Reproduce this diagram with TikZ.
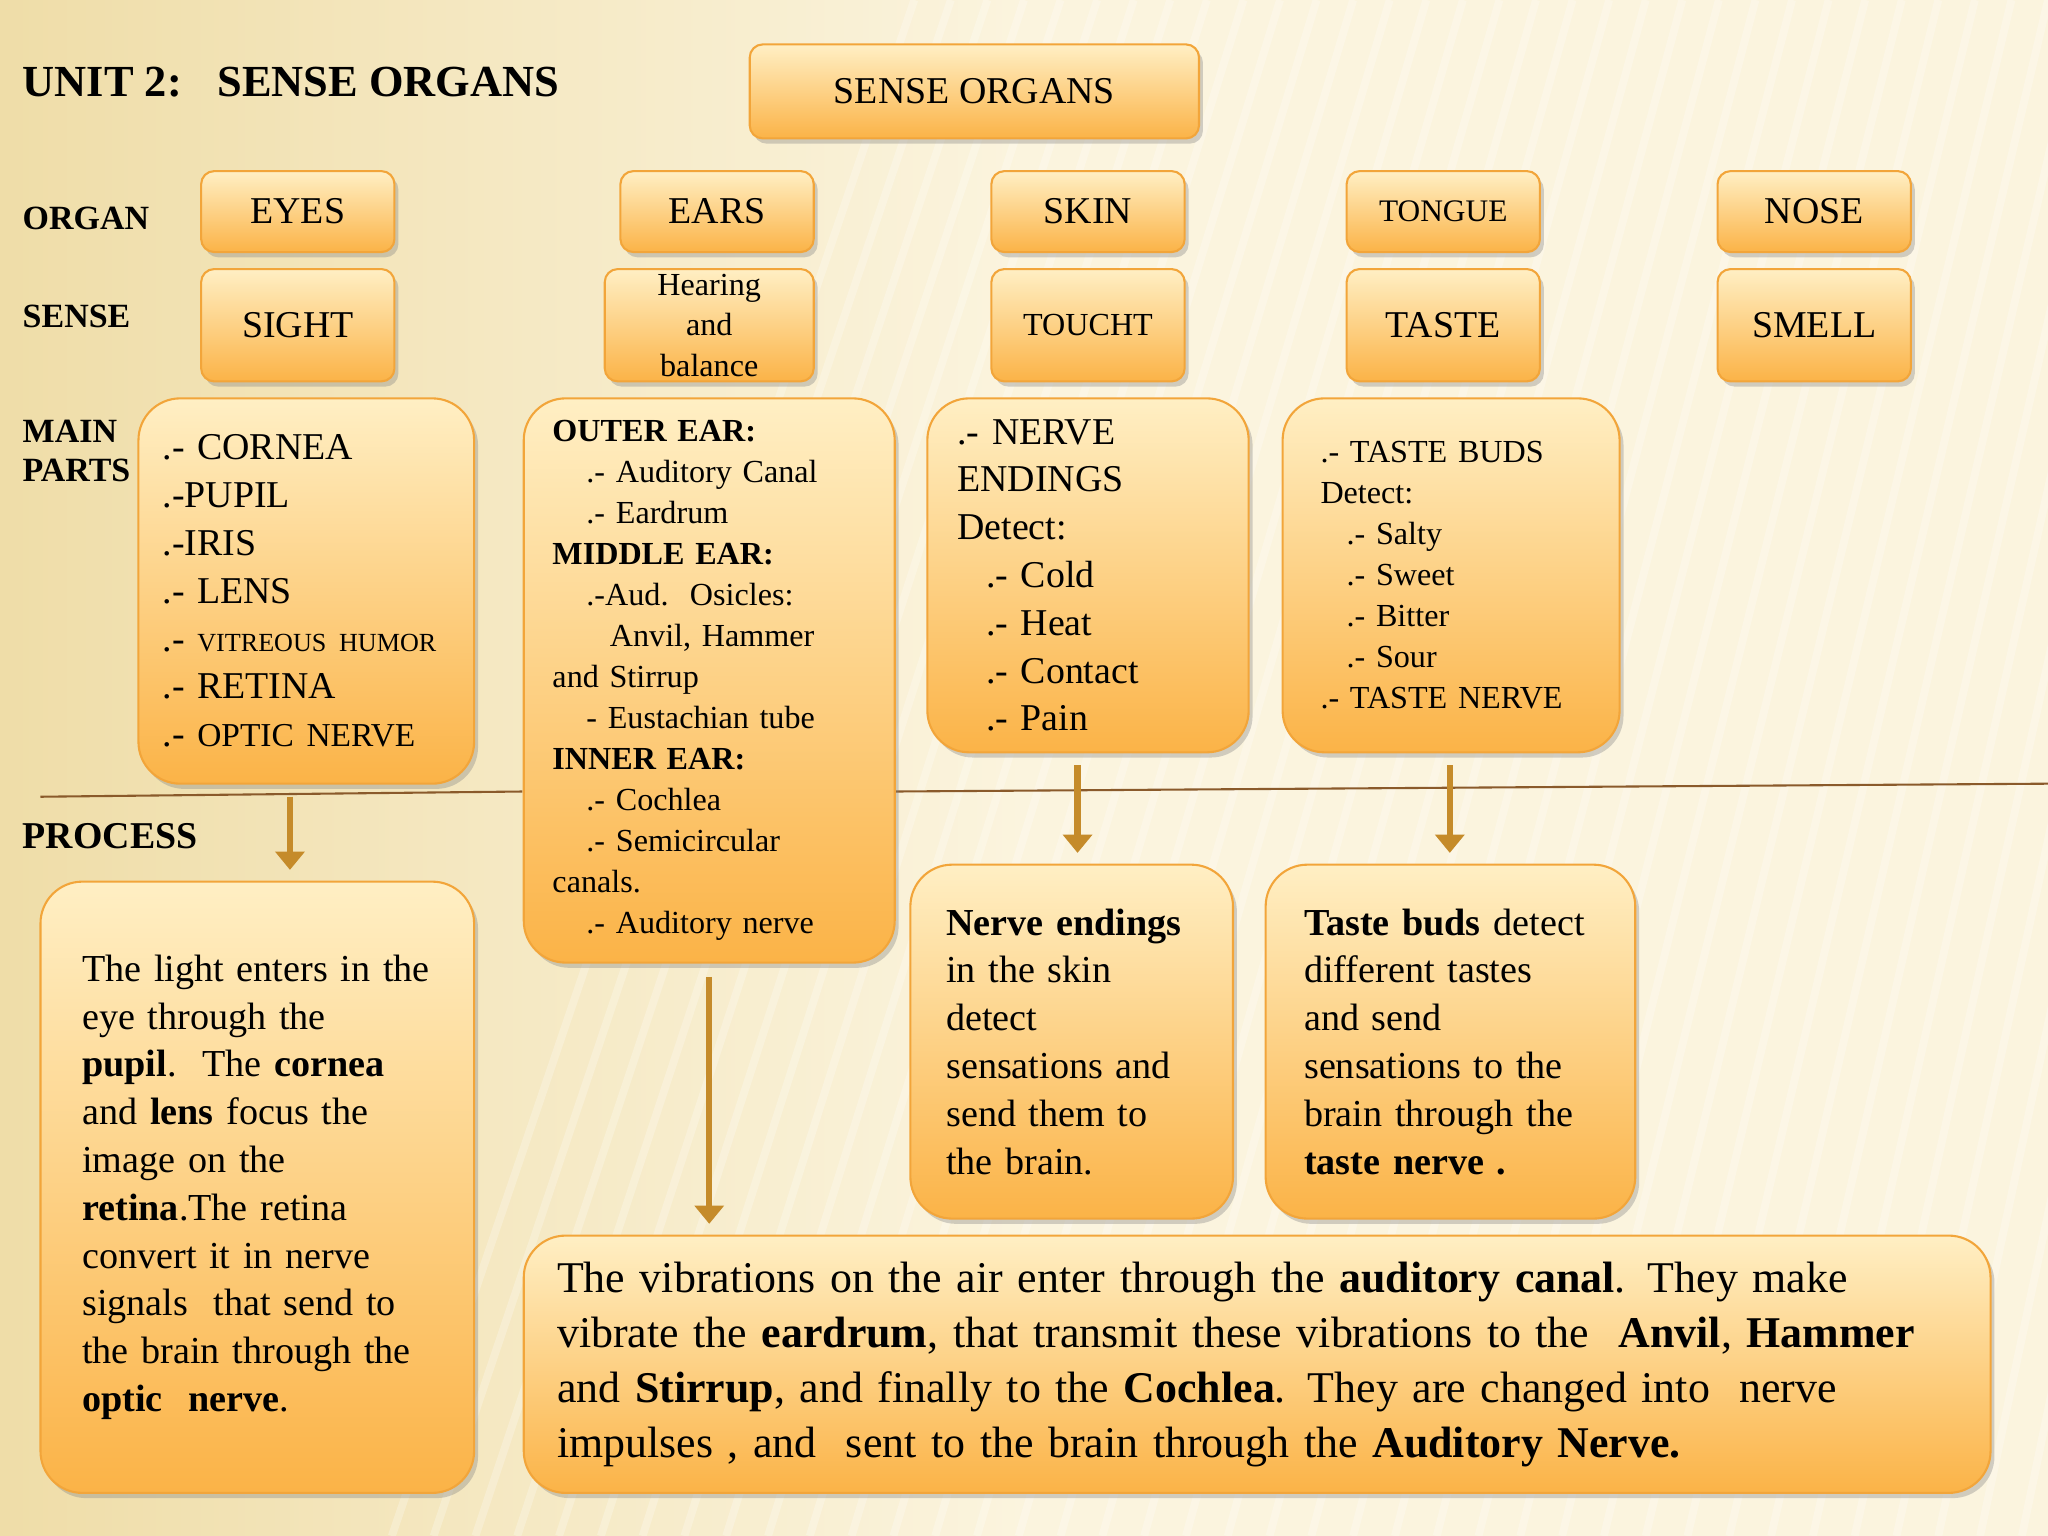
\documentclass[tikz,border=0pt]{standalone}
\usepackage{fontspec}
\setmainfont{Liberation Serif}
\usetikzlibrary{shadows,arrows.meta}
\definecolor{bgA}{HTML}{FBF4DE}
\definecolor{bgB}{HTML}{EFDDA8}
\definecolor{boxT}{HTML}{FFEFC4}
\definecolor{boxB}{HTML}{FBB347}
\definecolor{boxD}{HTML}{F2A53A}
\definecolor{arr}{HTML}{C58B2A}
\definecolor{rule}{HTML}{8A5A2B}
\tikzset{
 box/.style={draw=boxD, line width=0.8pt, top color=boxT, bottom color=boxB,
   drop shadow={shadow xshift=1.5pt, shadow yshift=-2pt, opacity=0.35},
   rounded corners=5pt, inner sep=0pt, align=center},
 bigbox/.style={box, rounded corners=16pt},
 lbl/.style={anchor=west, font=\fontsize{13}{15}\selectfont\bfseries, align=left, inner sep=0pt},
 down/.style={draw=arr, line width=2.5pt, -{Triangle[length=7pt,width=11pt]}},
 t14/.style={font=\fontsize{14.6}{18.3}\selectfont},
}
\begin{document}
\begin{tikzpicture}[x=0.5pt,y=-0.5pt]
\useasboundingbox (0,0) rectangle (1568,1176);
\shade[left color=bgB, right color=bgA, middle color=bgA] (0,0) rectangle (1568,1176);
\foreach \i in {0,...,40}{\draw[white, opacity=0.25, line width=3pt] (300+\i*32,1176) -- (700+\i*28,0);}
\draw[rule, line width=0.8pt] (31,610) -- (400,606);
\draw[rule, line width=0.8pt] (685,606) -- (1568,600);
\node[lbl, font=\fontsize{17}{19}\selectfont\bfseries] (unit) at (17,63) {UNIT 2:\hspace{0.8em}SENSE ORGANS};
\node[lbl] (lorg) at (17,167) {ORGAN};
\node[lbl] (lsen) at (17,242) {SENSE};
\node[lbl] (lmain) at (17,345) {MAIN\\PARTS};
\node[lbl, font=\fontsize{14.5}{16}\selectfont\bfseries] (lproc) at (17,640) {PROCESS};
\node[box, minimum width=172pt, minimum height=36pt, font=\fontsize{14.5}{16}\selectfont] (title) at (746,70) {SENSE ORGANS};
\foreach \n/\x/\t in {eyes/228/EYES, ears/549/EARS, skin/833/SKIN, nose/1389/NOSE}
  \node[box, minimum width=74pt, minimum height=31pt, font=\fontsize{14.5}{16}\selectfont] (\n) at (\x,162) {\t};
\node[box, minimum width=74pt, minimum height=31pt, font=\fontsize{12}{14}\selectfont] (tongue) at (1105,162) {TONGUE};
\node[box, minimum width=74pt, minimum height=43pt, font=\fontsize{14.5}{16}\selectfont] (sight) at (228,249) {SIGHT};
\node[box, minimum width=80pt, minimum height=43pt, font=\fontsize{12.3}{15.5}\selectfont] (hear) at (543,249) {Hearing\\and\\balance};
\node[box, minimum width=74pt, minimum height=43pt, font=\fontsize{12.3}{14}\selectfont] (touch) at (833,249) {TOUCHT};
\node[box, minimum width=74pt, minimum height=43pt, font=\fontsize{14.5}{16}\selectfont] (taste) at (1105,249) {TASTE};
\node[box, minimum width=74pt, minimum height=43pt, font=\fontsize{14.5}{16}\selectfont] (smell) at (1389,249) {SMELL};
\node[bigbox, minimum width=128.5pt, minimum height=147.5pt, align=left, text width=110pt, font=\fontsize{14.5}{18.3}\selectfont] (eyep) at (234.5,452.5)
 {.- CORNEA\\.-PUPIL\\.-IRIS\\.- LENS\\.- \mbox{\fontsize{10}{12}\selectfont VITREOUS HUMOR}\\.- RETINA\\.- {\fontsize{12.8}{14}\selectfont OPTIC NERVE}};
\node[bigbox, minimum width=142pt, minimum height=216pt, align=left, text width=120pt, font=\fontsize{12.3}{15.7}\selectfont] (earp) at (543,521)
 {\textbf{OUTER EAR:}\\\hspace*{13pt}.- Auditory Canal\\\hspace*{13pt}.- Eardrum\\\textbf{MIDDLE EAR:}\\\hspace*{13pt}.-Aud.\ \ Osicles:\\\hspace*{22pt}Anvil, Hammer\\and Stirrup\\\hspace*{13pt}- Eustachian tube\\\textbf{INNER EAR:}\\\hspace*{13pt}.- Cochlea\\\hspace*{13pt}.- Semicircular\\canals.\\\hspace*{13pt}.- Auditory nerve};
\node[bigbox, minimum width=123pt, minimum height=135.5pt, align=left, text width=100pt, font=\fontsize{14.5}{18.3}\selectfont] (skinp) at (833,440.5)
 {.- NERVE\\ENDINGS\\Detect:\\\hspace*{11pt}.- Cold\\\hspace*{11pt}.- Heat\\\hspace*{11pt}.- Contact\\\hspace*{11pt}.- Pain};
\node[bigbox, minimum width=129pt, minimum height=135.5pt, align=left, text width=100pt, font=\fontsize{12.3}{15.7}\selectfont] (tongp) at (1111,440.5)
 {.- TASTE BUDS\\Detect:\\\hspace*{10pt}.- Salty\\\hspace*{10pt}.- Sweet\\\hspace*{10pt}.- Bitter\\\hspace*{10pt}.- Sour\\.- TASTE NERVE};
\node[bigbox, minimum width=166pt, minimum height=234pt, align=left, text width=134pt, t14] (eyeq) at (197,909)
 {The light enters in the\\eye through the\\\textbf{pupil}.\ \ The \textbf{cornea}\\and \textbf{lens} focus the\\image on the\\\textbf{retina}.The retina\\convert it in nerve\\signals\ \ that send to\\the brain through the\\\textbf{optic\ \ nerve}.};
\node[bigbox, minimum width=123.5pt, minimum height=135.5pt, align=left, text width=96pt, t14] (skinq) at (820.5,797.5)
 {\textbf{Nerve endings}\\in the skin\\detect\\sensations and\\send them to\\the brain.};
\node[bigbox, minimum width=141.5pt, minimum height=135.5pt, align=left, text width=112pt, t14] (tongq) at (1110.5,797.5)
 {\textbf{Taste buds} detect\\different tastes\\and send\\sensations to the\\brain through the\\\textbf{taste nerve .}};
\node[bigbox, minimum width=561.5pt, minimum height=98.5pt, align=left, text width=536pt, font=\fontsize{16.8}{21}\selectfont] (earq) at (962.5,1044.5)
 {The vibrations on the air enter through the \textbf{auditory canal}. They make\\vibrate the \textbf{eardrum}, that transmit these vibrations to the\ \ \textbf{Anvil}, \textbf{Hammer}\\and \textbf{Stirrup}, and finally to the \textbf{Cochlea}. They are changed into\ \ nerve\\impulses , and\ \ sent to the brain through the \textbf{Auditory Nerve.}};
\coordinate (a1) at (222,610); \coordinate (b1) at (222,666);
\coordinate (a2) at (543,748); \coordinate (b2) at (543,937);
\coordinate (a3) at (825,586); \coordinate (b3) at (825,653);
\coordinate (a4) at (1110,586); \coordinate (b4) at (1110,653);
\draw[down] (a1) -- (b1);
\draw[down] (a2) -- (b2);
\draw[down] (a3) -- (b3);
\draw[down] (a4) -- (b4);
\end{tikzpicture}
\end{document}
